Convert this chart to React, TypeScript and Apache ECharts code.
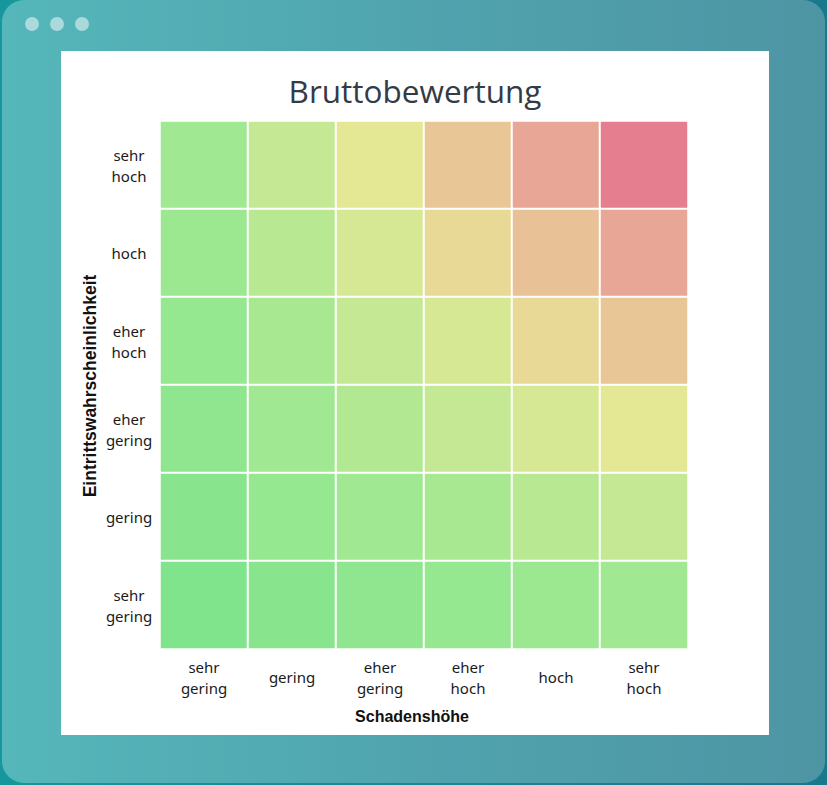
import React, { useEffect, useRef } from "react";
import * as echarts from "echarts";

const chartTitle = "Bruttobewertung";
const xCategories = ["sehr\ngering", "gering", "eher\ngering", "eher\nhoch", "hoch", "sehr\nhoch"];
// bottom to top
const yCategories = ["sehr\ngering", "gering", "eher\ngering", "eher\nhoch", "hoch", "sehr\nhoch"];
const xAxisName = "Schadenshöhe";
const yAxisName = "Eintrittswahrscheinlichkeit";

// risk values, rows from top (sehr hoch) to bottom (sehr gering), columns left to right
const rowSehrHoch = [6, 12, 18, 24, 30, 36];
const rowHoch = [5, 10, 15, 20, 25, 30];
const rowEherHoch = [4, 8, 12, 16, 20, 24];
const rowEherGering = [3, 6, 9, 12, 15, 18];
const rowGering = [2, 4, 6, 8, 10, 12];
const rowSehrGering = [1, 2, 3, 4, 5, 6];
const riskRows = [rowSehrHoch, rowHoch, rowEherHoch, rowEherGering, rowGering, rowSehrGering];

// colour scale (style)
const colorPieces = [
  { value: 1, color: "#80e48c" },
  { value: 2, color: "#88e58d" },
  { value: 3, color: "#90e68f" },
  { value: 4, color: "#95e790" },
  { value: 5, color: "#9be890" },
  { value: 6, color: "#a0e891" },
  { value: 8, color: "#a8e891" },
  { value: 9, color: "#b1e891" },
  { value: 10, color: "#b8e892" },
  { value: 12, color: "#c4e893" },
  { value: 15, color: "#d6e894" },
  { value: 16, color: "#d6e894" },
  { value: 18, color: "#e4e794" },
  { value: 20, color: "#e8d996" },
  { value: 24, color: "#e8c696" },
  { value: 25, color: "#e8c196" },
  { value: 30, color: "#e8a796" },
  { value: 36, color: "#e57f90" },
];

export default function App() {
  const ref = useRef<HTMLDivElement>(null);

  useEffect(() => {
    if (!ref.current) return;
    const chart = echarts.init(ref.current, null, { renderer: "svg" });
    const n = riskRows.length;
    const data: number[][] = [];
    riskRows.forEach((row, r) => {
      row.forEach((v, c) => {
        data.push([c, n - 1 - r, v]);
      });
    });
    const labelStyle = {
      fontFamily: "Noto Sans",
      fontSize: 15,
      lineHeight: 21,
      color: "#1a1a1a",
    };
    chart.setOption({
      animation: false,
      backgroundColor: "transparent",
      grid: { left: 160, top: 121, width: 528, height: 528 },
      xAxis: {
        type: "category",
        data: xCategories,
        axisLine: { show: false },
        axisTick: { show: false },
        splitArea: { show: false },
        splitLine: { show: false },
        axisLabel: { ...labelStyle, interval: 0, margin: 28, verticalAlign: "middle" },
      },
      yAxis: {
        type: "category",
        data: yCategories,
        axisLine: { show: false },
        axisTick: { show: false },
        splitArea: { show: false },
        splitLine: { show: false },
        axisLabel: { ...labelStyle, interval: 0, margin: 31, align: "center" },
      },
      visualMap: {
        type: "piecewise",
        show: false,
        dimension: 2,
        pieces: colorPieces,
      },
      series: [
        {
          type: "heatmap",
          data,
          itemStyle: { borderColor: "#ffffff", borderWidth: 2 },
          emphasis: { disabled: true },
        },
      ],
      graphic: [
        {
          type: "text",
          x: 415,
          y: 90,
          style: {
            text: chartTitle,
            font: "31.5px 'Open Sans'",
            fill: "#333b46",
            align: "center",
            verticalAlign: "middle",
          },
        },
        {
          type: "text",
          x: 412,
          y: 716,
          style: {
            text: xAxisName,
            font: "bold 16px 'Liberation Sans'",
            fill: "#111111",
            align: "center",
            verticalAlign: "middle",
          },
        },
        {
          type: "text",
          x: 90,
          y: 386,
          rotation: Math.PI / 2,
          style: {
            text: yAxisName,
            font: "bold 17.5px 'Liberation Sans'",
            fill: "#111111",
            align: "center",
            verticalAlign: "middle",
          },
        },
      ],
    });
    return () => chart.dispose();
  }, []);

  return (
    <div
      style={{
        position: "absolute",
        left: 0,
        top: 0,
        width: 827,
        height: 785,
        background: "linear-gradient(to right, #15979c, #177a8c)",
        overflow: "hidden",
      }}
    >
      <div
        style={{
          position: "absolute",
          left: 2,
          top: 0,
          width: 823,
          height: 783,
          borderRadius: 22,
          background: "linear-gradient(to right, #55b7ba, #50a4ae 50%, #4e95a4)",
        }}
      />
      {[32, 57, 82].map((cx) => (
        <div
          key={cx}
          style={{
            position: "absolute",
            left: cx - 7,
            top: 17,
            width: 14,
            height: 14,
            borderRadius: 7,
            background: "rgba(255,255,255,0.5)",
          }}
        />
      ))}
      <div
        style={{
          position: "absolute",
          left: 61,
          top: 51,
          width: 708,
          height: 684,
          background: "#ffffff",
        }}
      />
      <div ref={ref} style={{ position: "absolute", left: 0, top: 0, width: 827, height: 785 }} />
    </div>
  );
}
